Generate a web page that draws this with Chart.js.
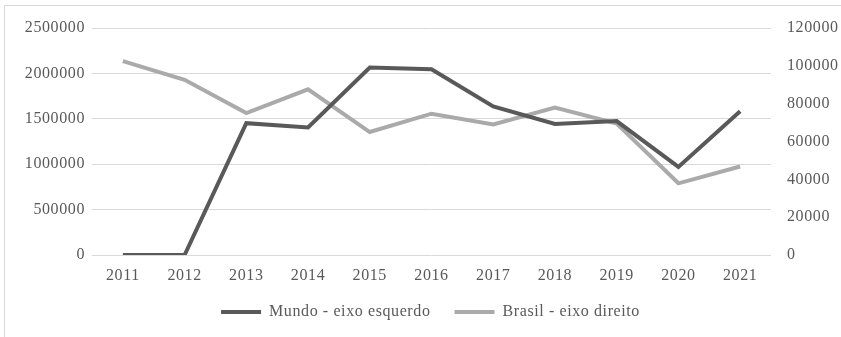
<!DOCTYPE html>
<html>
<head>
<meta charset="utf-8">
<script src="https://cdn.jsdelivr.net/npm/chart.js@4/dist/chart.umd.min.js"></script>
<style>
    html, body { margin: 0; padding: 0; background: #fff; }
    #wrap { position: relative; width: 841px; height: 337px; overflow: hidden; }
    #frame { position: absolute; left: 4px; top: 5px; width: 850px; height: 400px; border: 1px solid #d9d9d9; box-sizing: border-box; }
    #chart { position: absolute; left: 0; top: 0; }
</style>
</head>
<body>
<div id="wrap">
    <div id="frame"></div>
    <canvas id="chart" width="841" height="337"></canvas>
</div>
<script>
// anos e series (Mundo no eixo esquerdo, Brasil no eixo direito)
const years = ['2011', '2012', '2013', '2014', '2015', '2016', '2017', '2018', '2019', '2020', '2021'];
const mundo = [0, 0, 1452000, 1405000, 2065000, 2045000, 1637000, 1444000, 1475000, 970000, 1583000];
const brasil = [102500, 92600, 75000, 87600, 65000, 74700, 69000, 78000, 69500, 37900, 46800];

const textColor = '#595959';
const gridColor = '#d9d9d9';
const font = { family: '"Liberation Serif", "Times New Roman", serif', size: 16 };

const legendShift = { x: 10, y: -14 };

// espacamento das letras parecido com o do Word + ajuste da legenda
const spacingPlugin = {
    id: 'spacing',
    beforeInit(chart) {
        // legenda com altura fixa, mesmo com espaco largo entre os itens
        const fit = chart.legend.fit;
        chart.legend.fit = function () {
            fit.call(this);
            this.height = 37;
        };
    },
    afterLayout(chart) {
        // sobe os itens da legenda, sem cortar as descendentes
        const lg = chart.legend;
        lg.left += legendShift.x;
        lg.right += legendShift.x;
        lg.top += legendShift.y;
    },
    beforeLayout(chart) { chart.ctx.letterSpacing = '0.6px'; },
    beforeDraw(chart) { chart.ctx.letterSpacing = '0.6px'; }
};

// numeros sem separador de milhar
const plain = (v) => String(v);

const ctx = document.getElementById('chart').getContext('2d');
new Chart(ctx, {
    type: 'line',
    data: {
        labels: years,
        datasets: [
            {
                label: 'Mundo - eixo esquerdo',
                data: mundo,
                yAxisID: 'y',
                borderColor: '#595959',
                backgroundColor: '#595959',
                borderWidth: 4,
                pointRadius: 0,
                tension: 0
            },
            {
                label: 'Brasil - eixo direito',
                data: brasil,
                yAxisID: 'y1',
                borderColor: '#aaaaaa',
                backgroundColor: '#aaaaaa',
                borderWidth: 4,
                pointRadius: 0,
                tension: 0
            }
        ]
    },
    options: {
        responsive: false,
        animation: false,
        layout: { padding: { top: 28, left: 0, right: 0, bottom: 6 } },
        plugins: {
            tooltip: { enabled: false },
            legend: {
                position: 'bottom',
                labels: {
                    color: textColor,
                    font: font,
                    boxWidth: 40,
                    boxHeight: 4,
                    padding: 24,
                    generateLabels(chart) {
                        return chart.data.datasets.map((ds, i) => ({
                            text: ds.label,
                            fillStyle: ds.borderColor,
                            strokeStyle: ds.borderColor,
                            lineWidth: 0,
                            fontColor: textColor,
                            datasetIndex: i
                        }));
                    }
                }
            }
        },
        scales: {
            x: {
                offset: true,
                grid: { display: false, drawTicks: false },
                border: { display: false },
                ticks: { color: textColor, font: font, padding: 11, maxRotation: 0 },
                afterFit(scale) { scale.height = 39; }
            },
            y: {
                position: 'left',
                min: 0,
                max: 2500000,
                grid: { color: gridColor, drawTicks: false },
                border: { display: false },
                ticks: { stepSize: 500000, color: textColor, font: font, padding: 7, callback: plain },
                afterFit(scale) { scale.width = 92; }
            },
            y1: {
                position: 'right',
                min: 0,
                max: 120000,
                grid: { display: false, drawTicks: false },
                border: { display: false },
                ticks: { stepSize: 20000, color: textColor, font: font, padding: 16, callback: plain },
                afterFit(scale) { scale.width = 70; }
            }
        }
    },
    plugins: [spacingPlugin]
});
</script>
</body>
</html>
